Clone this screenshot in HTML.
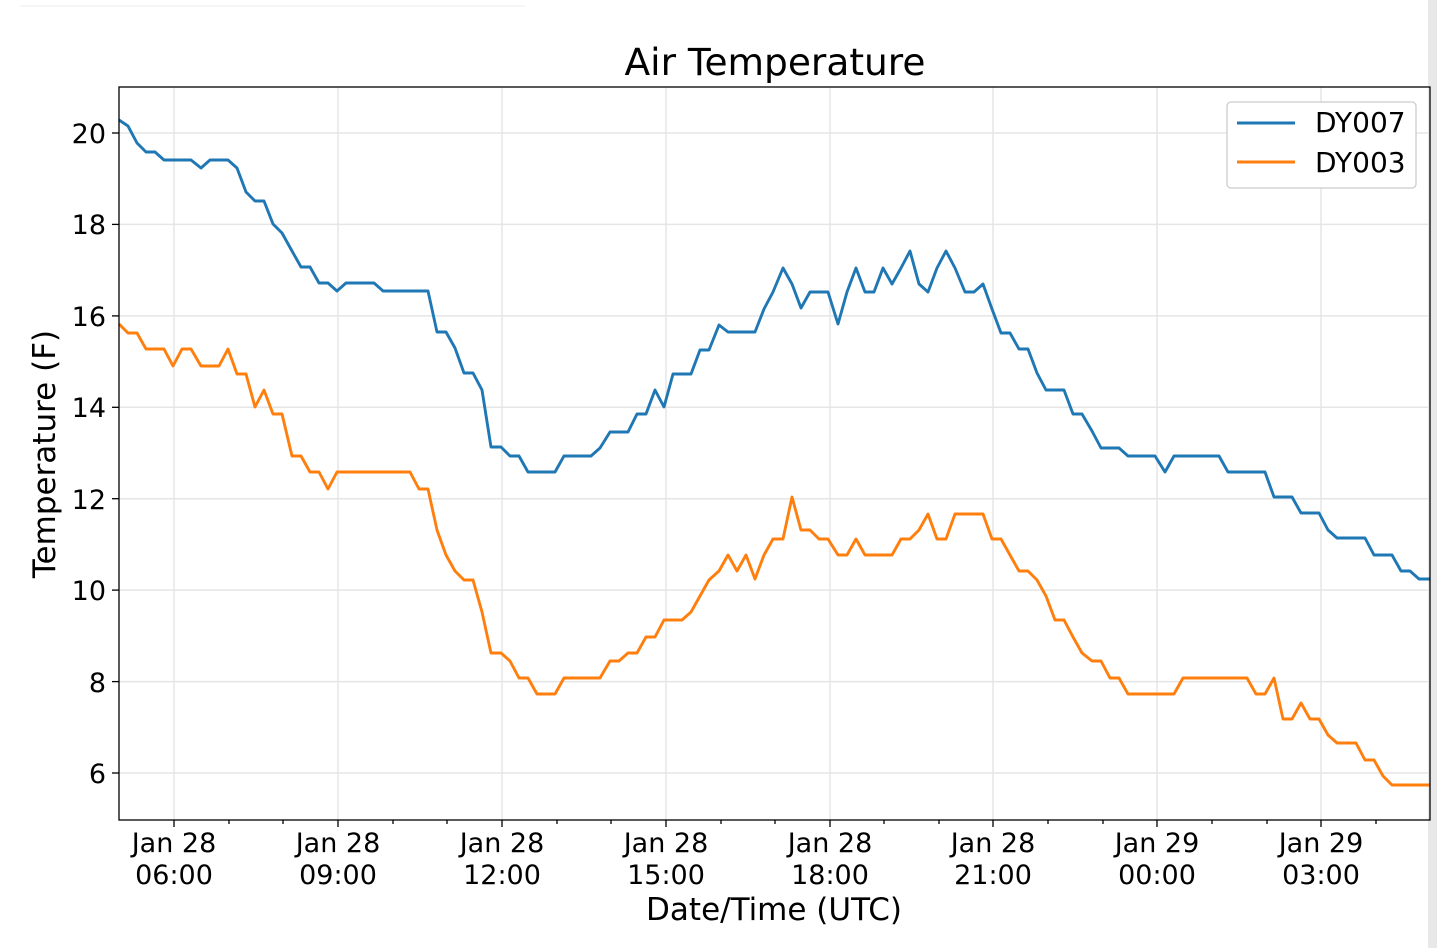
<!DOCTYPE html>
<html><head><style>body{margin:0;background:#fff}svg{display:block}text{font-family:"DejaVu Sans","Liberation Sans",sans-serif;fill:#000}</style></head><body>
<svg width="1437" height="948" viewBox="0 0 1437 948">
<rect x="1428" y="0" width="9" height="948" fill="#e8e8e8"/>
<line x1="20" y1="6" x2="525" y2="6" stroke="#eee"/>
<g stroke="#e5e5e5" stroke-width="1.5">
<line x1="174" y1="87" x2="174" y2="820"/><line x1="338" y1="87" x2="338" y2="820"/><line x1="502" y1="87" x2="502" y2="820"/><line x1="666" y1="87" x2="666" y2="820"/><line x1="830" y1="87" x2="830" y2="820"/><line x1="993" y1="87" x2="993" y2="820"/><line x1="1157" y1="87" x2="1157" y2="820"/><line x1="1321" y1="87" x2="1321" y2="820"/>
<line x1="119" y1="133" x2="1430" y2="133"/><line x1="119" y1="224.4" x2="1430" y2="224.4"/><line x1="119" y1="315.9" x2="1430" y2="315.9"/><line x1="119" y1="407.3" x2="1430" y2="407.3"/><line x1="119" y1="498.7" x2="1430" y2="498.7"/><line x1="119" y1="590.1" x2="1430" y2="590.1"/><line x1="119" y1="681.6" x2="1430" y2="681.6"/><line x1="119" y1="773" x2="1430" y2="773"/>
</g>
<polyline fill="none" stroke="#1f77b4" stroke-width="2.9" stroke-linejoin="round" points="119,120 128,126 137,143 146,152 155,152 164,160 173,160 182,160 191,160 201,168 210,160 219,160 228,160 237,168 246,192 255,201 264,201 273,224 282,233 292,251 301,267 310,267 319,283 328,283 337,291 346,283 355,283 364,283 374,283 383,291 428,291 437,332 446,332 455,348 464,373 473,373 482,390 491,447 501,447 510,456 519,456 528,472 555,472 564,456 591,456 600,448 610,432 628,432 637,414 646,414 655,390 664,407 673,374 691,374 700,350 709,350 719,325 728,332 755,332 764,309 773,292 783,268 792,284 801,308 810,292 828,292 838,324 847,292 856,268 865,292 874,292 883,268 892,284 901,268 910,251 919,284 928,292 937,268 946,251 955,268 965,292 974,292 983,284 992,309 1001,333 1010,333 1019,349 1028,349 1037,373 1046,390 1064,390 1073,414 1082,414 1092,431 1101,448 1119,448 1128,456 1155,456 1165,472 1174,456 1219,456 1228,472 1265,472 1274,497 1292,497 1301,513 1319,513 1328,530 1337,538 1365,538 1374,555 1392,555 1401,571 1410,571 1419,579 1430,579"/>
<polyline fill="none" stroke="#ff7f0e" stroke-width="2.9" stroke-linejoin="round" points="119,324 128,333 137,333 146,349 164,349 173,366 182,349 191,349 201,366 219,366 228,349 237,374 246,374 255,407 264,390 273,414 282,414 292,456 301,456 310,472 319,472 328,489 337,472 410,472 419,489 428,489 437,530 446,555 455,571 464,580 473,580 482,612 491,653 501,653 510,661 519,678 528,678 537,694 555,694 564,678 600,678 610,661 619,661 628,653 637,653 646,637 655,637 664,620 682,620 691,612 700,596 709,580 719,571 728,555 737,571 746,555 755,579 764,555 773,539 783,539 792,497 801,530 810,530 819,539 828,539 838,555 847,555 856,539 865,555 892,555 901,539 910,539 919,530 928,514 937,539 946,539 955,514 983,514 992,539 1001,539 1010,555 1019,571 1028,571 1037,580 1046,596 1055,620 1064,620 1073,637 1082,653 1092,661 1101,661 1110,678 1119,678 1128,694 1174,694 1183,678 1247,678 1256,694 1265,694 1274,678 1283,719 1292,719 1301,703 1310,719 1319,719 1328,735 1337,743 1356,743 1365,760 1374,760 1383,776 1392,785 1430,785"/>
<rect x="119" y="87" width="1311" height="733" fill="none" stroke="#000" stroke-width="1.3"/>
<g stroke="#000" stroke-width="1.3">
<line x1="174" y1="820" x2="174" y2="827"/><line x1="338" y1="820" x2="338" y2="827"/><line x1="502" y1="820" x2="502" y2="827"/><line x1="666" y1="820" x2="666" y2="827"/><line x1="830" y1="820" x2="830" y2="827"/><line x1="993" y1="820" x2="993" y2="827"/><line x1="1157" y1="820" x2="1157" y2="827"/><line x1="1321" y1="820" x2="1321" y2="827"/>
<line x1="229" y1="820" x2="229" y2="824"/><line x1="283" y1="820" x2="283" y2="824"/><line x1="393" y1="820" x2="393" y2="824"/><line x1="447" y1="820" x2="447" y2="824"/><line x1="557" y1="820" x2="557" y2="824"/><line x1="611" y1="820" x2="611" y2="824"/><line x1="721" y1="820" x2="721" y2="824"/><line x1="775" y1="820" x2="775" y2="824"/><line x1="884" y1="820" x2="884" y2="824"/><line x1="939" y1="820" x2="939" y2="824"/><line x1="1048" y1="820" x2="1048" y2="824"/><line x1="1103" y1="820" x2="1103" y2="824"/><line x1="1212" y1="820" x2="1212" y2="824"/><line x1="1267" y1="820" x2="1267" y2="824"/><line x1="1376" y1="820" x2="1376" y2="824"/>
<line x1="112" y1="133" x2="119" y2="133"/><line x1="112" y1="224.4" x2="119" y2="224.4"/><line x1="112" y1="315.9" x2="119" y2="315.9"/><line x1="112" y1="407.3" x2="119" y2="407.3"/><line x1="112" y1="498.7" x2="119" y2="498.7"/><line x1="112" y1="590.1" x2="119" y2="590.1"/><line x1="112" y1="681.6" x2="119" y2="681.6"/><line x1="112" y1="773" x2="119" y2="773"/>
</g>
<g font-size="27" text-anchor="end">
<text x="106" y="143">20</text><text x="106" y="234">18</text><text x="106" y="326">16</text><text x="106" y="417">14</text><text x="106" y="509">12</text><text x="106" y="600">10</text><text x="106" y="692">8</text><text x="106" y="783">6</text>
</g>
<g font-size="27" text-anchor="middle">
<text x="174" y="852">Jan 28</text><text x="174" y="884">06:00</text>
<text x="338" y="852">Jan 28</text><text x="338" y="884">09:00</text>
<text x="502" y="852">Jan 28</text><text x="502" y="884">12:00</text>
<text x="666" y="852">Jan 28</text><text x="666" y="884">15:00</text>
<text x="830" y="852">Jan 28</text><text x="830" y="884">18:00</text>
<text x="993" y="852">Jan 28</text><text x="993" y="884">21:00</text>
<text x="1157" y="852">Jan 29</text><text x="1157" y="884">00:00</text>
<text x="1321" y="852">Jan 29</text><text x="1321" y="884">03:00</text>
<text x="774" y="920" font-size="31">Date/Time (UTC)</text>
<text x="775" y="75" font-size="37.5">Air Temperature</text>
</g>
<text x="55" y="454" font-size="31" text-anchor="middle" transform="rotate(-90 55 454)">Temperature (F)</text>
<rect x="1227" y="102" width="189" height="86" rx="4" fill="#fff" stroke="#ccc" stroke-width="1.3"/>
<line x1="1237" y1="123" x2="1295" y2="123" stroke="#1f77b4" stroke-width="2.9"/>
<line x1="1237" y1="162" x2="1295" y2="162" stroke="#ff7f0e" stroke-width="2.9"/>
<text x="1315" y="132" font-size="28">DY007</text>
<text x="1315" y="172" font-size="28">DY003</text>
</svg>
</body></html>
